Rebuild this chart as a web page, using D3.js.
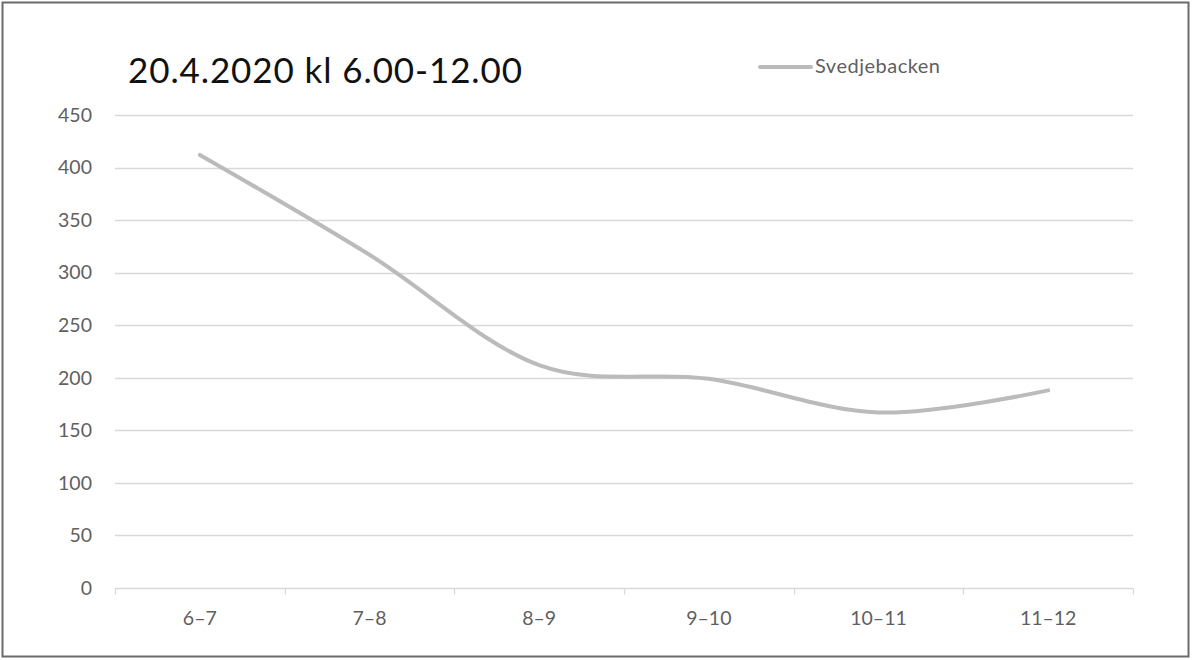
<!DOCTYPE html>
<html>
<head>
<meta charset="utf-8">
<script src="https://cdn.jsdelivr.net/npm/d3@7"></script>
<style>
  html, body { margin: 0; padding: 0; background: #fff; }
  svg { display: block; }
</style>
</head>
<body>
<svg id="chart" width="1192" height="660"></svg>
<script>
// Traffic counts per hour, 20.4.2020
const categories = ["6–7", "7–8", "8–9", "9–10", "10–11", "11–12"];
const svedjebacken = [412, 317, 212, 199, 167, 188];
const yTicks = [0, 50, 100, 150, 200, 250, 300, 350, 400, 450];
const seriesName = "Svedjebacken";
const title = "20.4.2020 kl 6.00-12.00";

const svg = d3.select("#chart");
const W = 1192, H = 660;
const plot = { left: 115, right: 1133, top: 115, bottom: 588 };
const font = "Lato, 'Open Sans', sans-serif";
const labelColor = "#5f5f5f";

// outer frame
svg.append("rect")
  .attr("x", 2.5).attr("y", 2.5)
  .attr("width", W - 6).attr("height", H - 6)
  .attr("fill", "#fff").attr("stroke", "#6b6b6b").attr("stroke-width", 2);

const x = d3.scaleBand().domain(categories).range([plot.left, plot.right]).padding(0);
const y = d3.scaleLinear().domain([0, 450]).range([plot.bottom, plot.top]);

// horizontal gridlines
svg.append("g")
  .selectAll("line")
  .data(yTicks.filter(d => d > 0))
  .join("line")
  .attr("x1", plot.left).attr("x2", plot.right)
  .attr("y1", d => Math.round(y(d)) + 0.5).attr("y2", d => Math.round(y(d)) + 0.5)
  .attr("stroke", "#d9d9d9").attr("stroke-width", 1.3);

// y axis labels
const yAxis = d3.axisLeft(y).tickValues(yTicks).tickSize(0).tickPadding(0);
const gy = svg.append("g").attr("transform", `translate(${plot.left - 23},0)`).call(yAxis);
gy.select(".domain").remove();
gy.selectAll("text")
  .attr("font-family", font).attr("font-size", 19.5).attr("fill", labelColor);

// x axis with category boundary ticks
const gx = svg.append("g").attr("transform", `translate(0,${Math.round(y(0)) + 0.5})`);
gx.append("line")
  .attr("x1", plot.left).attr("x2", plot.right)
  .attr("stroke", "#d9d9d9").attr("stroke-width", 1.3);
const bounds = categories.map(c => x(c)).concat([x(categories[categories.length - 1]) + x.bandwidth()]);
gx.selectAll("line.tick")
  .data(bounds)
  .join("line")
  .attr("class", "tick")
  .attr("x1", d => Math.round(d) + 0.5).attr("x2", d => Math.round(d) + 0.5)
  .attr("y1", 0).attr("y2", 6)
  .attr("stroke", "#d9d9d9").attr("stroke-width", 1.3);
gx.selectAll("text")
  .data(categories)
  .join("text")
  .attr("x", d => x(d) + x.bandwidth() / 2)
  .attr("y", 36)
  .attr("text-anchor", "middle")
  .attr("font-family", font).attr("font-size", 19.5).attr("fill", labelColor)
  .text(d => d);

// smoothed series line
const line = d3.line()
  .x((d, i) => x(categories[i]) + x.bandwidth() / 2)
  .y(d => y(d))
  .curve(d3.curveCardinal.tension(0));
svg.append("path")
  .datum(svedjebacken)
  .attr("d", line)
  .attr("fill", "none")
  .attr("stroke", "#bbbbbb")
  .attr("stroke-width", 4)
  .attr("stroke-linecap", "round");

// title
svg.append("text")
  .attr("x", 128).attr("y", 83)
  .attr("font-family", font).attr("font-size", 35).attr("letter-spacing", 0.9).attr("fill", "#111")
  .text(title);

// legend
svg.append("line")
  .attr("x1", 760).attr("x2", 811).attr("y1", 67).attr("y2", 67)
  .attr("stroke", "#bbbbbb").attr("stroke-width", 4).attr("stroke-linecap", "round");
svg.append("text")
  .attr("x", 815).attr("y", 73)
  .attr("font-family", font).attr("font-size", 20).attr("letter-spacing", 0.5).attr("fill", labelColor)
  .text(seriesName);
</script>
</body>
</html>
